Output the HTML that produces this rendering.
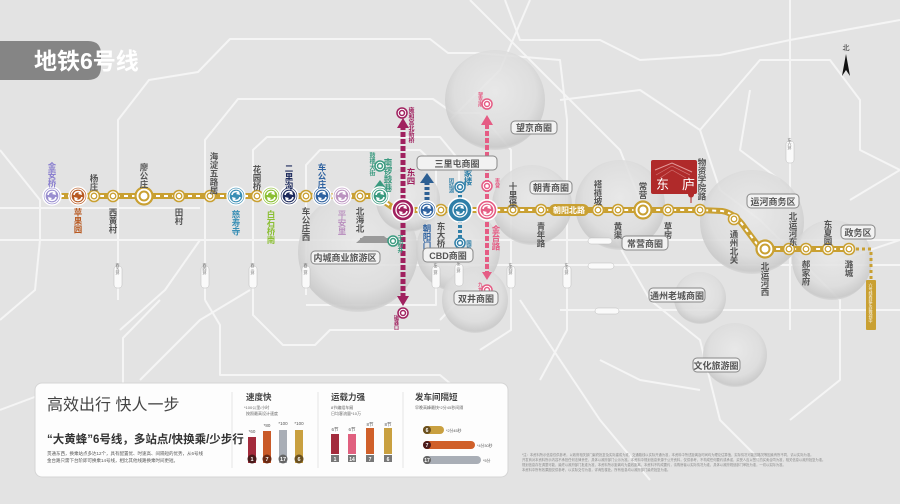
<!DOCTYPE html>
<html><head><meta charset="utf-8">
<style>
html,body{margin:0;padding:0;background:#e3e3e3;}
svg{display:block;font-family:"Liberation Sans","Noto Sans CJK SC",sans-serif;}
.v{writing-mode:vertical-rl;font-weight:bold;font-size:8.5px;fill:#555;}
.vs{writing-mode:vertical-rl;font-size:4px;}
.pill text{font-size:9px;fill:#555;font-weight:bold;}
</style></head><body>
<svg width="900" height="504" viewBox="0 0 900 504" xmlns="http://www.w3.org/2000/svg">
<defs>
 <radialGradient id="bub" cx="50%" cy="42%" r="58%">
  <stop offset="0" stop-color="#e9e9e9" stop-opacity="0.85"/>
  <stop offset="0.7" stop-color="#dddddd" stop-opacity="0.85"/>
  <stop offset="0.95" stop-color="#c9c9c9" stop-opacity="0.9"/>
  <stop offset="1" stop-color="#d8d8d8" stop-opacity="0.9"/>
 </radialGradient>
 <g id="s"><circle r="5.5" fill="#fff" stroke="#c9a032" stroke-width="1.6"/><circle r="2.8" fill="none" stroke="#c9a032" stroke-width="1.3"/></g>
 <g id="sb"><circle r="8.5" fill="#fff" stroke="#c9a032" stroke-width="2.2"/><circle r="4.5" fill="none" stroke="#c9a032" stroke-width="2"/></g>
 <g id="t"><circle r="7" fill="none" stroke="#fff" stroke-width="1.3"/><path d="M-4,-1 A4,4 0 0 1 3,-3 M4,1 A4,4 0 0 1 -3,3" fill="none" stroke="#fff" stroke-width="1.6"/><path d="M3,-5 L4,-1 L0,-2Z M-3,5 L-4,1 L0,2Z" fill="#fff"/></g>
</defs>
<rect width="900" height="504" fill="#e3e3e3"/>

<!-- roads -->
<g fill="none" stroke="#f5f5f5" stroke-width="2" stroke-linejoin="round">
 <path d="M118,300 L118,120 L149,80 L198,72 L230,39 L430,39 L448,53 L476,53 L560,60 L567,120 L567,330 L540,380"/>
 <path d="M205,300 L205,140 L238,99 L433,99 L453,113 L480,113 L511,150 L511,330 L480,350"/>
 <path d="M253,290 L253,150 L267,137 L440,137 L459,160 L459,300 L440,320"/>
 <path d="M306,295 L306,165 L320,150 L420,150 L436,165 L436,305 L306,305"/>
 <path d="M253,290 L253,315 L283,345 L315,345 L330,330 L440,330"/>
 <path d="M205,300 L220,325 L220,375 L440,375 L470,400"/>
 <path d="M0,208 L200,208 M0,240 L900,240 M300,265 L900,265 M560,310 L900,310"/>
 <path d="M790,0 L790,330 M0,150 L40,200 L40,240 L35,290 L0,320"/>
 <path d="M120,330 L165,290 L200,240 M0,410 L40,395"/>
 <path d="M160,300 L123,338 L123,383 M250,290 L200,320 L140,380"/>
 <path d="M505,0 L520,40 L600,40 L640,60 L720,55 L790,40 L900,20"/>
 <path d="M450,120 L500,70 L530,0 M470,0 L560,90 L620,150 L640,200"/>
 <path d="M560,100 L640,90 L700,130 L720,190 L760,220 M760,220 L840,300 L840,380 L790,420"/>
 <path d="M610,230 L650,300 L700,340 L720,420 L760,460 M600,360 L640,380 L700,390"/>
 <path d="M520,300 L560,360 L600,420 L650,480 M840,260 L900,240 M850,200 L900,170"/>
 <path d="M750,90 L740,150 L780,180 M700,130 L760,60 L830,60 L860,100 L860,150 L900,170"/>
</g>

<!-- bubbles -->
<g>
 <circle cx="495" cy="100" r="50" fill="url(#bub)"/>
 <circle cx="358" cy="252" r="60" fill="url(#bub)"/>
 <circle cx="408" cy="200" r="32" fill="url(#bub)"/>
 <circle cx="458" cy="250" r="42" fill="url(#bub)"/>
 <circle cx="475" cy="300" r="33" fill="url(#bub)"/>
 <circle cx="532" cy="205" r="40" fill="url(#bub)"/>
 <circle cx="620" cy="205" r="45" fill="url(#bub)"/>
 <circle cx="752" cy="222" r="52" fill="url(#bub)"/>
 <circle cx="832" cy="260" r="40" fill="url(#bub)"/>
 <circle cx="700" cy="298" r="26" fill="url(#bub)"/>
 <circle cx="735" cy="355" r="32" fill="url(#bub)"/>
</g>
<path d="M356,243 L364,236 L384,236 L392,243 Z M360,238 L388,238 L388,243 L360,243Z" fill="#9a9a9a"/>

<!-- ring labels -->
<g font-size="5" fill="#666" text-anchor="middle">
 <g><rect x="114" y="266" width="8" height="22" rx="3" fill="#fafafa" stroke="#bbb" stroke-width="0.5"/><text class="vs" x="118" y="269">西五环</text></g>
 <g><rect x="201" y="266" width="8" height="22" rx="3" fill="#fafafa" stroke="#bbb" stroke-width="0.5"/><text class="vs" x="205" y="269">西四环</text></g>
 <g><rect x="249" y="266" width="8" height="22" rx="3" fill="#fafafa" stroke="#bbb" stroke-width="0.5"/><text class="vs" x="253" y="269">西三环</text></g>
 <g><rect x="302" y="266" width="8" height="22" rx="3" fill="#fafafa" stroke="#bbb" stroke-width="0.5"/><text class="vs" x="306" y="269">西二环</text></g>
 <g><rect x="432" y="266" width="8" height="22" rx="3" fill="#fafafa" stroke="#bbb" stroke-width="0.5"/><text class="vs" x="436" y="269">东二环</text></g>
 <g><rect x="455" y="264" width="8" height="22" rx="3" fill="#fafafa" stroke="#bbb" stroke-width="0.5"/><text class="vs" x="459" y="267">东三环</text></g>
 <g><rect x="507" y="266" width="8" height="22" rx="3" fill="#fafafa" stroke="#bbb" stroke-width="0.5"/><text class="vs" x="511" y="269">东四环</text></g>
 <g><rect x="563" y="266" width="8" height="22" rx="3" fill="#fafafa" stroke="#bbb" stroke-width="0.5"/><text class="vs" x="567" y="269">东五环</text></g>
 <g><rect x="786" y="141" width="8" height="22" rx="3" fill="#fafafa" stroke="#bbb" stroke-width="0.5"/><text class="vs" x="790" y="144">东六环</text></g>
 <rect x="588" y="238" width="24" height="6" rx="3" fill="#fafafa" stroke="#bbb" stroke-width="0.5"/>
 <rect x="588" y="263" width="26" height="6" rx="3" fill="#fafafa" stroke="#bbb" stroke-width="0.5"/>
 <rect x="595" y="308" width="24" height="6" rx="3" fill="#fafafa" stroke="#bbb" stroke-width="0.5"/>
</g>

<!-- title -->
<path d="M0,41 L88,41 Q101,41 101,54 L101,67 Q101,80 88,80 L0,80Z" fill="#858585"/>
<text x="34" y="69" font-size="23" font-weight="bold" fill="#fff">地铁6号线</text>
<text x="846" y="50" font-size="7" fill="#333" text-anchor="middle">北</text>
<path d="M846,54 L850,76 L846,70 L842,76Z" fill="#111"/>

<!-- vertical transfer lines -->
<g stroke-linecap="butt">
 <line x1="403" y1="125" x2="403" y2="298" stroke="#a0215f" stroke-width="5" stroke-dasharray="5,2"/>
 <path d="M397,128 L403,118 L409,128Z M397,296 L403,306 L409,296Z" fill="#a0215f"/>
 <line x1="487" y1="124" x2="487" y2="272" stroke="#e55c84" stroke-width="4" stroke-dasharray="5,2"/>
 <path d="M481,125 L487,115 L493,125Z M482,272 L487,280 L492,272Z" fill="#e55c84"/>
 <line x1="427" y1="182" x2="427" y2="205" stroke="#2c5f93" stroke-width="5" stroke-dasharray="3,2"/>
 <path d="M420,183 L427,173 L434,183Z" fill="#2c5f93"/>
 <line x1="380" y1="186" x2="380" y2="195" stroke="#3a9a7f" stroke-width="5"/>
 <path d="M374,188 L380,180 L386,188Z" fill="#3a9a7f"/>
 <line x1="460" y1="190" x2="460" y2="240" stroke="#2f7fa8" stroke-width="4" stroke-dasharray="3,2"/>
</g>

<!-- line 6 -->
<path d="M52,196 L376,196 L392,207 L403,210 L700,210 L722,211 Q735,213 745,228 L757,244 Q760,249 768,249 L850,249" fill="none" stroke="#c9a032" stroke-width="6"/>
<path d="M52,196 L376,196 L392,207 L403,210 L700,210 L722,211 Q735,213 745,228 L757,244 Q760,249 768,249 L850,249" fill="none" stroke="#fff" stroke-width="2" stroke-dasharray="4,4"/>
<path d="M850,249 L871,249 L871,282" fill="none" stroke="#c9a032" stroke-width="3" stroke-dasharray="3,3"/>
<rect x="866" y="280" width="10" height="50" rx="1" fill="#c9a032"/>
<text class="vs" x="871" y="283" fill="#fff" font-size="4.2">六号线西延东延规划中</text>
<rect x="549" y="204" width="40" height="12" rx="6" fill="#c9a032"/>
<text x="569" y="213" font-size="8" font-weight="bold" fill="#fff" text-anchor="middle">朝阳北路</text>

<g>
 <use href="#s" x="94" y="196"/><use href="#s" x="113" y="196"/><use href="#sb" x="144" y="196"/>
 <use href="#s" x="179" y="196"/><use href="#s" x="210" y="196"/><use href="#s" x="257" y="196"/>
 <use href="#s" x="306" y="196"/><use href="#s" x="360" y="196"/><use href="#s" x="441" y="210"/>
 <use href="#s" x="513" y="210"/><use href="#s" x="541" y="210"/><use href="#s" x="598" y="210"/>
 <use href="#s" x="618" y="210"/><use href="#sb" x="643" y="210"/><use href="#s" x="668" y="210"/>
 <use href="#s" x="700" y="210"/><use href="#s" x="734" y="219"/><use href="#sb" x="765" y="249"/>
 <use href="#s" x="789" y="249"/><use href="#s" x="806" y="249"/><use href="#s" x="828" y="249"/><use href="#s" x="849" y="249"/>
</g>
<g fill="#fff" stroke-width="1.5">
 <circle cx="380" cy="166" r="5" stroke="#3a9a7f"/><circle cx="380" cy="166" r="2.5" fill="none" stroke="#3a9a7f"/>
 <circle cx="402" cy="113" r="5" stroke="#a0215f"/><circle cx="402" cy="113" r="2.5" fill="none" stroke="#a0215f"/>
 <circle cx="403" cy="313" r="5" stroke="#a0215f"/><circle cx="403" cy="313" r="2.5" fill="none" stroke="#a0215f"/>
 <circle cx="487" cy="104" r="5" stroke="#e55c84"/><circle cx="487" cy="104" r="2.5" fill="none" stroke="#e55c84"/>
 <circle cx="487" cy="186" r="5" stroke="#e55c84"/><circle cx="487" cy="186" r="2.5" fill="none" stroke="#e55c84"/>
 <circle cx="487" cy="290" r="5" stroke="#e55c84"/><circle cx="487" cy="290" r="2.5" fill="none" stroke="#e55c84"/>
 <circle cx="460" cy="187" r="5" stroke="#2f7fa8"/><circle cx="460" cy="187" r="2.5" fill="none" stroke="#2f7fa8"/>
 <circle cx="460" cy="243" r="5" stroke="#2f7fa8"/><circle cx="460" cy="243" r="2.5" fill="none" stroke="#2f7fa8"/>
 <circle cx="393" cy="241" r="5" stroke="#3a9a7f"/><circle cx="393" cy="241" r="2.5" fill="none" stroke="#3a9a7f"/>
</g>
<g stroke="#fff" stroke-width="1.5">
 <circle cx="52" cy="196" r="9" fill="#9a8fd0"/><circle cx="78" cy="196" r="9" fill="#b85a22"/>
 <circle cx="236" cy="196" r="9" fill="#3a8fb5"/><circle cx="271" cy="196" r="9" fill="#8bbf33"/>
 <circle cx="289" cy="196" r="9" fill="#1d2a5c"/><circle cx="322" cy="196" r="9" fill="#2f62a0"/>
 <circle cx="342" cy="196" r="9" fill="#bb93c0"/><circle cx="380" cy="196" r="9" fill="#3a9a7f"/>
 <circle cx="403" cy="210" r="11" fill="#a0215f"/><circle cx="427" cy="210" r="9" fill="#2f62a0"/>
 <circle cx="460" cy="210" r="12" fill="#2f7fa8"/><circle cx="487" cy="210" r="10" fill="#e55c84"/>
</g>
<use href="#t" x="52" y="196"/><use href="#t" x="78" y="196"/><use href="#t" x="236" y="196"/><use href="#t" x="271" y="196"/>
<use href="#t" x="289" y="196"/><use href="#t" x="322" y="196"/><use href="#t" x="342" y="196"/><use href="#t" x="380" y="196"/>
<use href="#t" x="403" y="210"/><use href="#t" x="427" y="210"/><use href="#t" x="460" y="210"/><use href="#t" x="487" y="210"/>

<g>
 <text class="v" x="52" y="162" style="fill:#8a7fcf">金安桥</text>
 <text class="v" x="78" y="208" style="fill:#b85a22">苹果园</text>
 <text class="v" x="94" y="174">杨庄</text>
 <text class="v" x="113" y="208">西黄村</text>
 <text class="v" x="144" y="163">廖公庄</text>
 <text class="v" x="179" y="208">田村</text>
 <text class="v" x="214" y="152">海淀五路居</text>
 <text class="v" x="236" y="210" style="fill:#3a8fb5">慈寿寺</text>
 <text class="v" x="257" y="165">花园桥</text>
 <text class="v" x="271" y="210" style="fill:#8bbf33">白石桥南</text>
 <text class="v" x="289" y="164" style="fill:#1d2a5c">二里沟</text>
 <text class="v" x="306" y="207">车公庄西</text>
 <text class="v" x="322" y="163" style="fill:#2f62a0">车公庄</text>
 <text class="v" x="342" y="210" style="fill:#bb93c0">平安里</text>
 <text class="v" x="360" y="207">北海北</text>
 <text class="v" x="388" y="158" style="fill:#3a9a7f">南锣鼓巷</text>
 <text class="v" x="411" y="168" style="fill:#a0215f">东四</text>
 <text class="v" x="427" y="224" style="fill:#2f62a0">朝阳门</text>
 <text class="v" x="441" y="222">东大桥</text>
 <text class="v" x="468" y="160" style="fill:#2f7fa8">呼家楼</text>
 <text class="v" x="496" y="225" style="fill:#e55c84">金台路</text>
 <text class="v" x="513" y="182">十里堡</text>
 <text class="v" x="541" y="222">青年路</text>
 <text class="v" x="598" y="180">褡裢坡</text>
 <text class="v" x="618" y="222">黄渠</text>
 <text class="v" x="643" y="182">常营</text>
 <text class="v" x="668" y="222">草房</text>
 <text class="v" x="702" y="158">物资学院路</text>
 <text class="v" x="734" y="230">通州北关</text>
 <text class="v" x="765" y="262">北运河西</text>
 <text class="v" x="793" y="212">北运河东</text>
 <text class="v" x="806" y="260">郝家府</text>
 <text class="v" x="828" y="220">东夏园</text>
 <text class="v" x="849" y="260">潞城</text>
 <text class="v" x="371" y="152" style="fill:#3a9a7f;font-size:6px">鼓楼大街</text>
 <text class="v" x="399" y="235" style="fill:#3a9a7f;font-size:6px">王府井</text>
 <text class="v" x="410" y="107" style="fill:#a0215f;font-size:6px">雍和宫北新桥</text>
 <text class="v" x="396" y="315" style="fill:#a0215f;font-size:5px">磁器口</text>
 <text class="v" x="480" y="92" style="fill:#e55c84;font-size:5px">望京南</text>
 <text class="v" x="480" y="282" style="fill:#e55c84;font-size:5px">九龙山</text>
 <text class="v" x="497" y="178" style="fill:#e55c84;font-size:5px">枣营</text>
 <text class="v" x="451" y="178" style="fill:#2f7fa8;font-size:5px">团结湖</text>
 <text class="v" x="468" y="240" style="fill:#2f7fa8;font-size:5.5px">国贸</text>
</g>

<g class="pill">
 <rect x="417" y="156" width="80" height="14" rx="4" fill="#f2f2f2" stroke="#888"/><text x="457" y="167" text-anchor="middle">三里屯商圈</text>
 <rect x="511" y="121" width="46" height="13" rx="4" fill="#f2f2f2" stroke="#888"/><text x="534" y="131" text-anchor="middle">望京商圈</text>
 <rect x="530" y="181" width="42" height="13" rx="4" fill="#f2f2f2" stroke="#888"/><text x="551" y="191" text-anchor="middle">朝青商圈</text>
 <rect x="423" y="248" width="50" height="14" rx="4" fill="#f2f2f2" stroke="#888"/><text x="448" y="259" text-anchor="middle">CBD商圈</text>
 <rect x="454" y="291" width="44" height="14" rx="4" fill="#f2f2f2" stroke="#888"/><text x="476" y="302" text-anchor="middle">双井商圈</text>
 <rect x="311" y="251" width="69" height="13" rx="4" fill="#f2f2f2" stroke="#888"/><text x="345" y="261" text-anchor="middle">内城商业旅游区</text>
 <rect x="622" y="236" width="46" height="14" rx="4" fill="#f2f2f2" stroke="#888"/><text x="645" y="247" text-anchor="middle">常营商圈</text>
 <rect x="747" y="194" width="52" height="14" rx="4" fill="#f2f2f2" stroke="#888"/><text x="773" y="205" text-anchor="middle">运河商务区</text>
 <rect x="841" y="225" width="34" height="14" rx="4" fill="#f2f2f2" stroke="#888"/><text x="858" y="236" text-anchor="middle">政务区</text>
 <rect x="649" y="288" width="56" height="14" rx="4" fill="#f2f2f2" stroke="#888"/><text x="677" y="299" text-anchor="middle">通州老城商圈</text>
 <rect x="693" y="358" width="47" height="14" rx="4" fill="#f2f2f2" stroke="#888"/><text x="716" y="369" text-anchor="middle">文化旅游圈</text>
</g>

<rect x="651" y="160" width="46" height="34" rx="2" fill="#b02a2a"/>
<path d="M655,170 L672,163 L692,172" fill="none" stroke="#e39a9a" stroke-width="1"/>
<path d="M656,175 L672,166 L690,175 M660,178 L672,170 L686,178" fill="none" stroke="#d27575" stroke-width="0.7"/>
<text x="656" y="189" font-size="13" fill="#fff">东</text>
<text x="682" y="189" font-size="13" fill="#fff">庐</text>
<path d="M691,197 a2.5,2.5 0 1 1 0.1,0 L691,203Z" fill="#b02a2a" stroke="#b02a2a" stroke-width="1"/>

<rect x="35" y="383" width="473" height="94" rx="7" fill="#fdfdfd" stroke="#d5d5d5"/>
<text x="47" y="410" font-size="16" fill="#444">高效出行  快人一步</text>
<text x="47" y="443" font-size="11.5" font-weight="bold" fill="#333">“大黄蜂”6号线，多站点/快换乘/少步行</text>
<text x="47" y="455" font-size="4.5" fill="#555">贯通东西，换乘站点多达12个，具有配置优、时速高、间隔短的优势，从6号线</text>
<text x="47" y="462" font-size="4.5" fill="#555">金台路只需下台阶即可换乘14号线，相比其他线路换乘时间更短。</text>
<g stroke="#e5e5e5"><line x1="232" y1="392" x2="232" y2="468"/><line x1="318" y1="392" x2="318" y2="468"/><line x1="403" y1="392" x2="403" y2="468"/></g>
<text x="246" y="400" font-size="8.5" font-weight="bold" fill="#444">速度快</text>
<text x="244" y="409" font-size="4" fill="#666">*100公里/小时</text>
<text x="246" y="415" font-size="4" fill="#666">按照最高设计速度</text>
<text x="331" y="400" font-size="8.5" font-weight="bold" fill="#444">运载力强</text>
<text x="331" y="409" font-size="4" fill="#666">8节编组车厢</text>
<text x="331" y="415" font-size="4" fill="#666">日均客流量*10万</text>
<text x="415" y="400" font-size="8.5" font-weight="bold" fill="#444">发车间隔短</text>
<text x="415" y="409" font-size="4" fill="#666">早晚高峰最快*2分45秒间隔</text>
<g font-size="4.5" fill="#555" text-anchor="middle">
 <rect x="248" y="437" width="8" height="26" fill="#a32b3c"/><text x="252" y="433">*60</text>
 <rect x="263" y="431" width="8" height="32" fill="#c95a28"/><text x="267" y="427">*80</text>
 <rect x="279" y="430" width="8" height="33" fill="#a9aeb6"/><text x="283" y="425">*100</text>
 <rect x="295" y="430" width="8" height="33" fill="#c9a040"/><text x="299" y="425">*100</text>
</g>
<g font-size="5.5" font-weight="bold" fill="#fff" text-anchor="middle">
 <circle cx="252" cy="459" r="4.5" fill="#4a1a1a"/><text x="252" y="461">1</text>
 <circle cx="267" cy="459" r="4.5" fill="#6a2a14"/><text x="267" y="461">7</text>
 <circle cx="283" cy="459" r="4.5" fill="#666"/><text x="283" y="461">17</text>
 <circle cx="299" cy="459" r="4.5" fill="#6a5020"/><text x="299" y="461">6</text>
</g>
<g font-size="4.5" fill="#555" text-anchor="middle">
 <rect x="331" y="434" width="8" height="20" fill="#a32b3c"/><text x="335" y="431">6节</text>
 <rect x="348" y="434" width="8" height="20" fill="#e0607f"/><text x="352" y="431">6节</text>
 <rect x="366" y="428" width="8" height="26" fill="#d0602a"/><text x="370" y="426">8节</text>
 <rect x="384" y="428" width="8" height="26" fill="#c9a040"/><text x="388" y="426">8节</text>
</g>
<g font-size="5" font-weight="bold" fill="#fff" text-anchor="middle">
 <rect x="331" y="455" width="8" height="7" fill="#777"/><text x="335" y="461">1</text>
 <rect x="348" y="455" width="8" height="7" fill="#777"/><text x="352" y="461">14</text>
 <rect x="366" y="455" width="8" height="7" fill="#777"/><text x="370" y="461">7</text>
 <rect x="384" y="455" width="8" height="7" fill="#777"/><text x="388" y="461">6</text>
</g>
<rect x="423" y="426" width="21" height="8" rx="4" fill="#c9a040"/>
<rect x="423" y="441" width="52" height="8" rx="4" fill="#d0602a"/>
<rect x="423" y="456" width="58" height="8" rx="4" fill="#a9aeb6"/>
<g font-size="5" font-weight="bold" fill="#fff" text-anchor="middle">
 <circle cx="427" cy="430" r="4" fill="#6a5020"/><text x="427" y="432">6</text>
 <circle cx="427" cy="445" r="4" fill="#4a1a1a"/><text x="427" y="447">7</text>
 <circle cx="427" cy="460" r="4" fill="#666"/><text x="427" y="462">17</text>
</g>
<g font-size="3.8" fill="#555"><text x="446" y="432">*2分45秒</text><text x="477" y="447">*4分30秒</text><text x="483" y="462">*5分</text></g>

<g font-size="3.3" fill="#8a8a8a">
 <text x="522" y="456">*注：本资料所示信息仅供参考，以政府相关部门最终批复及实际建成为准，交通路线以实际开通为准，本资料中所述距离及时间均为理论估算值，实际情况可能因路况等因素有所不同，请以实际为准。</text>
 <text x="522" y="461">开发商对本资料所示内容不承担任何法律责任，具体以政府部门公示为准。本资料中规划信息来源于公开资料，仅供参考，不构成任何要约或承诺，买受人应以签订的买卖合同为准，相关信息以政府批复为准。</text>
 <text x="522" y="466">规划信息存在调整可能，最终以政府部门批准为准，本资料所示距离均为直线距离，本资料不构成要约，请购房者以实际情况为准，具体以政府规划部门审批为准，一切以实际为准。</text>
 <text x="522" y="471">本资料中所有效果图仅供参考，以实际交付为准，详询售楼处。所有信息均以政府部门最终批复为准。</text>
</g>
</svg>
</body></html>
